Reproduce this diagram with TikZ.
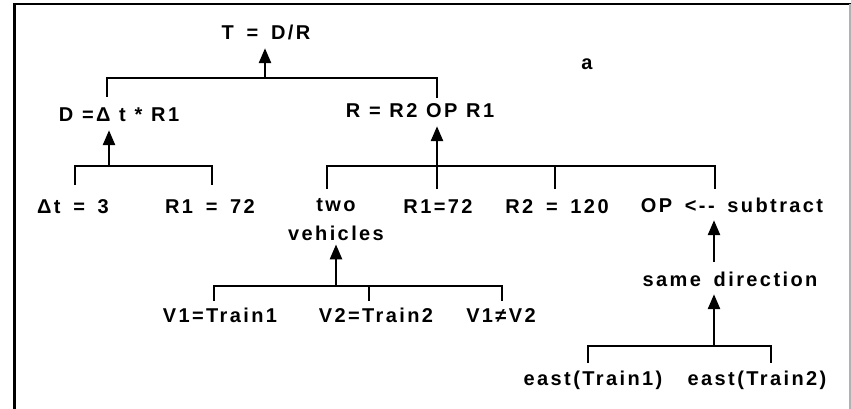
\documentclass[tikz,border=0pt]{standalone}
\usepackage{fontspec}
\setmainfont[LetterSpace=12, WordSpace=1.6]{Liberation Sans}
\newfontfamily\tightfont[LetterSpace=12, WordSpace=1.1]{Liberation Sans}
\usetikzlibrary{arrows.meta}
\begin{document}
\begin{tikzpicture}[x=1pt,y=-1pt,
  lblbase/.style={font=\fontsize{20}{29}\selectfont\bfseries, inner sep=4pt},
  lbl/.style={lblbase, text height=14pt, text depth=4pt, anchor=base},
  tight/.style={font=\fontsize{20}{29}\tightfont\bfseries},
  bar/.style={line width=2.6pt, line join=miter},
  arr/.style={line width=2.6pt, -{Triangle[width=12pt,length=15pt]}},
  frame/.style={line width=2.6pt}]
\useasboundingbox (0,0) rectangle (851,409);
% frame
\draw[frame] (14.5,409) -- (14.5,4) -- (851,4);
\draw[gray!60, line width=1.2pt] (850,4) -- (850,409);
% labels
\node[lbl] (T) at (266,40) {T = D/R};
\node[lbl] (a) at (587,70) {a};
\node[lbl, tight] (D) at (119,122) {D =Δ t * R1};
\node[lbl, tight] (R) at (420,118) {R = R2 OP R1};
\node[lbl] (dt) at (73,213) {Δt = 3};
\node[lbl] (R1a) at (210,213) {R1 = 72};
\node[lblbase, align=center, anchor=base] (two) at (336,240) {two\\vehicles};
\node[lbl] (R1b) at (438,213) {R1=72};
\node[lbl] (R2) at (557,213) {R2 = 120};
\node[lbl] (OP) at (732,212) {OP <-{}- subtract};
\node[lbl] (same) at (730,286) {same direction};
\node[lbl] (V1) at (220,322) {V1=Train1};
\node[lbl] (V2) at (376,322) {V2=Train2};
\node[lbl] (neq) at (501,322) {V1≠V2};
\node[lbl] (e1) at (593,385) {east(Train1)};
\node[lbl] (e2) at (757,385) {east(Train2)};
% junctions and drop ends
\coordinate (jT) at (265,78);
\coordinate (dD) at (107,97);
\coordinate (dR) at (437,98);
\coordinate (jD) at (109,166);
\coordinate (ddt) at (75,185);
\coordinate (dR1a) at (212,185);
\coordinate (jR) at (437,166);
\coordinate (dtwo) at (327,189);
\coordinate (dR1b) at (437,189);
\coordinate (dR2) at (555,189);
\coordinate (dOP) at (715,189);
\coordinate (jV) at (336,286);
\coordinate (dV1) at (214,301);
\coordinate (dV2) at (369,301);
\coordinate (dneq) at (502,301);
\coordinate (jS) at (714,262);
\coordinate (jE) at (714,346);
\coordinate (de1) at (588,363);
\coordinate (de2) at (771,363);
% T
\draw[bar] (dD) |- (jT) -| (dR);
\draw[arr] (jT) -- (T.south -| jT);
% D
\draw[bar] (ddt) |- (jD) -| (dR1a);
\draw[arr] (jD) -- (D.south -| jD);
% R
\draw[bar] (dtwo) |- (jR) -| (dOP);
\draw[bar] (dR2) -- (dR2 |- jR);
\draw[bar] (dR1b) -- (jR);
\draw[arr] (jR) -- (R.south -| jR);
% two vehicles
\draw[bar] (dV1) |- (jV) -| (dneq);
\draw[bar] (dV2) -- (dV2 |- jV);
\draw[arr] (jV) -- (two.south -| jV);
% OP <- same direction
\draw[arr] (jS) -- (OP.south -| jS);
% same direction <- east
\draw[bar] (de1) |- (jE) -| (de2);
\draw[arr] (jE) -- (same.south -| jE);
\end{tikzpicture}
\end{document}
